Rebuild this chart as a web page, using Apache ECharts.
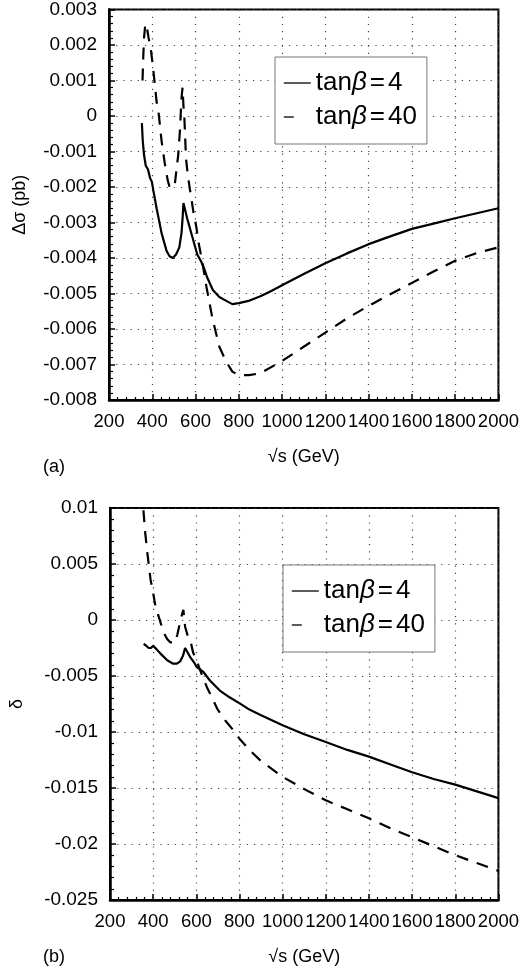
<!DOCTYPE html>
<html>
<head>
<meta charset="utf-8">
<script src="https://cdn.jsdelivr.net/npm/echarts@6/dist/echarts.min.js"></script>
<style>
html,body{margin:0;padding:0;background:#fff;}
#chart{width:522px;height:973px;}
</style>
</head>
<body>
<div id="chart"></div>
<script>
// ---------- DATA ----------
// Panel (a): Δσ (pb) vs √s (GeV)
const aX4   = [352, 356, 362, 370, 380, 390, 398, 405, 420, 443, 466, 480, 495, 510, 525, 535, 540, 544, 550, 562, 585, 608, 626, 640, 654, 680, 710, 740, 770, 800, 850, 900, 950, 1000, 1100, 1200, 1300, 1400, 1500, 1600, 1700, 1800, 1900, 2000];
const aY4   = [-0.0002, -0.0007, -0.0011, -0.0014, -0.0015, -0.00175, -0.00185, -0.0021, -0.0026, -0.0033, -0.0038, -0.00395, -0.0040, -0.0039, -0.0037, -0.0033, -0.0029, -0.00245, -0.0026, -0.0029, -0.0034, -0.0039, -0.0041, -0.0043, -0.00455, -0.0049, -0.0051, -0.0052, -0.0053, -0.00527, -0.0052, -0.00508, -0.00493, -0.00477, -0.00445, -0.00415, -0.00387, -0.00361, -0.00339, -0.00318, -0.00303, -0.00288, -0.00274, -0.0026];
const aX40  = [355, 358, 362, 368, 375, 383, 393, 401, 410, 420, 430, 443, 457, 471, 480, 503, 512, 520, 528, 535, 540, 544, 548, 556, 565, 575, 590, 603, 615, 631, 650, 678, 710, 740, 770, 800, 847, 898, 1000, 1100, 1200, 1300, 1400, 1500, 1600, 1700, 1800, 1900, 2000];
const aY40  = [0.0010, 0.0016, 0.0022, 0.0026, 0.0025, 0.0022, 0.0019, 0.0015, 0.0010, 0.0004, 0.00005, -0.0007, -0.0013, -0.0018, -0.0020, -0.0020, -0.0015, -0.0011, -0.0004, 0.0005, 0.0008, 0.0003, 0.0, -0.0012, -0.0017, -0.0021, -0.0027, -0.0031, -0.0036, -0.0041, -0.0048, -0.0057, -0.0065, -0.0069, -0.0072, -0.0073, -0.0073, -0.00725, -0.0069, -0.0065, -0.0061, -0.0057, -0.00535, -0.00502, -0.0047, -0.00438, -0.00408, -0.00386, -0.0037];
// Panel (b): δ vs √s (GeV)
const bX4   = [356, 368, 379, 390, 400, 415, 434, 465, 493, 510, 525, 538, 548, 560, 571, 590, 602, 631, 663, 709, 754, 814, 846, 900, 1000, 1100, 1200, 1300, 1400, 1500, 1600, 1700, 1800, 1900, 2000];
const bY4   = [-0.00214, -0.0023, -0.0025, -0.0025, -0.0023, -0.0026, -0.0030, -0.0036, -0.0039, -0.0039, -0.0037, -0.0032, -0.0025, -0.0029, -0.0033, -0.0038, -0.0042, -0.0046, -0.0054, -0.0063, -0.0069, -0.0076, -0.0080, -0.0085, -0.0094, -0.0102, -0.0109, -0.0116, -0.0122, -0.0129, -0.0136, -0.0142, -0.0147, -0.0153, -0.0159];
const bX40  = [355, 362, 373, 388, 400, 411, 429, 448, 465, 480, 503, 512, 525, 535, 540, 548, 560, 571, 585, 603, 626, 649, 677, 699, 735, 770, 800, 833, 846, 900, 1000, 1100, 1200, 1300, 1400, 1500, 1600, 1700, 1800, 1900, 2000];
const bY40  = [0.0098, 0.0080, 0.0060, 0.0036, 0.0024, 0.0012, 0.0001, -0.0011, -0.0017, -0.0020, -0.0020, -0.0013, -0.0002, 0.0006, 0.0009, -0.0006, -0.0014, -0.0017, -0.0029, -0.0037, -0.0049, -0.0060, -0.0071, -0.0080, -0.0090, -0.0098, -0.0106, -0.0113, -0.0116, -0.0126, -0.0140, -0.0151, -0.0161, -0.0169, -0.0177, -0.0186, -0.0194, -0.0202, -0.0210, -0.0217, -0.0224];
// Axis ranges / ticks
const xTicks = [200, 2000, 200];
const aYTicks = [-0.008, 0.003, 0.001];
const bYTicks = [-0.025, 0.01, 0.005];
const legendLabels = {a4: '4', a40: '40', b4: '4', b40: '40'};

// ---------- CHART ----------
const FONT = "'Liberation Sans', Arial, Helvetica, sans-serif";
const pair = (xs, ys) => xs.map((x, i) => [x, ys[i]]);
const fmtY = v => { const r = parseFloat(v.toFixed(4)); return r === 0 ? '0' : String(r); };

function xAxis(gi) {
  return {
    type: 'value', gridIndex: gi, min: xTicks[0], max: xTicks[1], interval: xTicks[2],
    name: '\u221As (GeV)', nameLocation: 'middle', nameGap: 48,
    nameTextStyle: {fontSize: 18, color: '#000', fontFamily: FONT},
    axisLine: {show: true, onZero: false, lineStyle: {color: '#000', width: 2.5}},
    axisTick: {show: true, inside: true, length: 6, lineStyle: {color: '#000', width: 1.5}},
    minorTick: {show: true, splitNumber: 5, length: 3, lineStyle: {color: '#000', width: 1.2}},
    axisLabel: {fontSize: 18.5, color: '#000', fontFamily: FONT, margin: 12, showMinLabel: true, showMaxLabel: true, hideOverlap: false, formatter: v => String(v)},
    splitLine: {show: true, lineStyle: {color: '#444', width: 1.2, type: [1.2, 6]}}
  };
}
function yAxis(gi, t, name, gap) {
  return {
    type: 'value', gridIndex: gi, min: t[0], max: t[1], interval: t[2],
    name: name, nameLocation: 'middle', nameGap: gap, nameRotate: 90,
    nameTextStyle: {fontSize: 18, color: '#000', fontFamily: FONT},
    axisLine: {show: true, onZero: false, lineStyle: {color: '#000', width: 2.5}},
    axisTick: {show: true, inside: true, length: 6, lineStyle: {color: '#000', width: 1.5}},
    minorTick: {show: true, splitNumber: 5, length: 4, lineStyle: {color: '#000', width: 1.2}},
    axisLabel: {fontSize: 19, color: '#000', fontFamily: FONT, margin: 12, formatter: fmtY, showMinLabel: true, showMaxLabel: true},
    splitLine: {show: true, lineStyle: {color: '#444', width: 1.2, type: [1.2, 6]}}
  };
}
function line(name, data, gi, dashed) {
  return {
    name: name, type: 'line', xAxisIndex: gi, yAxisIndex: gi, data: data,
    showSymbol: false, symbol: 'none', smooth: false, z: 5,
    lineStyle: {color: '#000', width: 2.2, type: dashed ? [12, 9] : 'solid'},
    itemStyle: {color: '#000'}
  };
}
const hiddenSym = {color: 'rgba(0,0,0,0)', borderWidth: 0, opacity: 0};
function legend(names, left, top) {
  return {
    orient: 'vertical', left: left, top: top,
    data: [
      {name: names[0], itemStyle: hiddenSym, lineStyle: {color: '#333', width: 1.6, type: 'solid'}},
      {name: names[1], itemStyle: hiddenSym, lineStyle: {color: '#333', width: 1.6, type: [10, 40]}}
    ],
    itemWidth: 27, itemHeight: 14, itemGap: 8,
    padding: [13, 10, 14, 8],
    backgroundColor: '#fff', borderColor: '#777', borderWidth: 1,
    selectedMode: false,
    formatter: n => '{t|tan}{b|\u03B2}{e|=}{t|' + legendLabels[n] + '}',
    textStyle: {
      color: '#000', fontFamily: FONT, fontSize: 26,
      rich: {
        t: {fontSize: 26, fontFamily: FONT, color: '#000'},
        b: {fontSize: 26, fontFamily: FONT, color: '#000', fontStyle: 'italic'},
        e: {fontSize: 26, fontFamily: FONT, color: '#000', padding: [0, 3, 0, 3]}
      }
    }
  };
}

const chart = echarts.init(document.getElementById('chart'), null, {renderer: 'canvas'});
chart.setOption({
  backgroundColor: '#fff',
  animation: false,
  title: [
    {text: '(a)', left: 43, top: 458, padding: 0, textStyle: {fontSize: 18, fontWeight: 'normal', color: '#000', fontFamily: FONT}},
    {text: '(b)', left: 43, top: 948, padding: 0, textStyle: {fontSize: 18, fontWeight: 'normal', color: '#000', fontFamily: FONT}}
  ],
  grid: [
    {left: 109, right: 21, top: 9, height: 391, show: true, borderColor: '#000', borderWidth: 2, backgroundColor: 'transparent'},
    {left: 109, right: 20, top: 508, height: 392, show: true, borderColor: '#000', borderWidth: 2, backgroundColor: 'transparent'}
  ],
  xAxis: [xAxis(0), xAxis(1)],
  yAxis: [yAxis(0, aYTicks, '\u0394\u03C3 (pb)', 80), yAxis(1, bYTicks, '\u03B4', 84)],
  legend: [legend(['a4', 'a40'], 275, 57), legend(['b4', 'b40'], 283, 565)],
  series: [
    line('a4', pair(aX4, aY4), 0, false),
    line('a40', pair(aX40, aY40), 0, true),
    line('b4', pair(bX4, bY4), 1, false),
    line('b40', pair(bX40, bY40), 1, true)
  ]
});
</script>
</body>
</html>
